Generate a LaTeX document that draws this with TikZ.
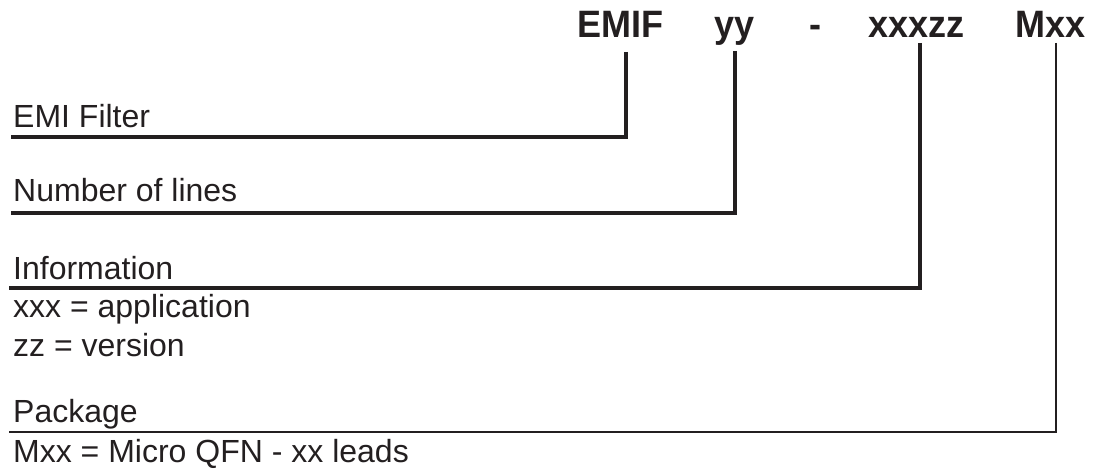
\documentclass[tikz,border=0pt]{standalone}
\usepackage{fontspec}
\setmainfont{Liberation Sans}
\usetikzlibrary{positioning}
\definecolor{ink}{HTML}{231F20}

\begin{document}
\begin{tikzpicture}[x=1pt,y=-1pt,
    code/.style={inner sep=0pt, anchor=base west, text=ink,
                 yscale=1.06, transform shape,
                 font=\fontsize{36}{40}\selectfont\bfseries},
    desc/.style={inner sep=0pt, anchor=base west, text=ink,
                 font=\fontsize{32}{38}\selectfont},
    lead/.style={draw=ink, line width=4pt, line join=miter},
    leadthin/.style={draw=ink, line width=2pt, line join=miter}]
    \useasboundingbox (0,0) rectangle (1096,470);

    % part number
    \node[code] (emif) at (577,38) {EMIF};
    \node[code] (yy)   at (714,38) {yy};
    \node[code] (dash) at (809,38) {-};
    \node[code] (xz)   at (868,38) {xxxzz};
    \node[code] (mxx)  at (1015,38) {Mxx};

    % descriptions
    \node[desc] (filter) at (13,128) {EMI Filter};
    \node[desc] (lines)  at (13,202) {Number of lines};
    \node[desc] (info)   at (13,280) {Information};
    \node[desc] (app)    at (13,318) {xxx = application};
    \node[desc] (ver)    at (13,357) {zz = version};
    \node[desc] (pkg)    at (13,423) {Package};
    \node[desc] (qfn)    at (13,462) {Mxx = Micro QFN - xx leads};

    % lead ends
    \coordinate (tEmif) at (626,52);
    \coordinate (tYy)   at (735,51);
    \coordinate (tXz)   at (920,43);
    \coordinate (tMxx)  at (1056,43);
    \coordinate (lFilter) at (11,137);
    \coordinate (lLines)  at (11,213);
    \coordinate (lInfo)   at (9,288);
    \coordinate (lPkg)    at (9,432);

    \draw[lead] (tEmif) |- (lFilter);
    \draw[lead] (tYy) |- (lLines);
    \draw[lead] (tXz) |- (lInfo);
    \draw[leadthin] (tMxx) |- (lPkg);
\end{tikzpicture}
\end{document}
